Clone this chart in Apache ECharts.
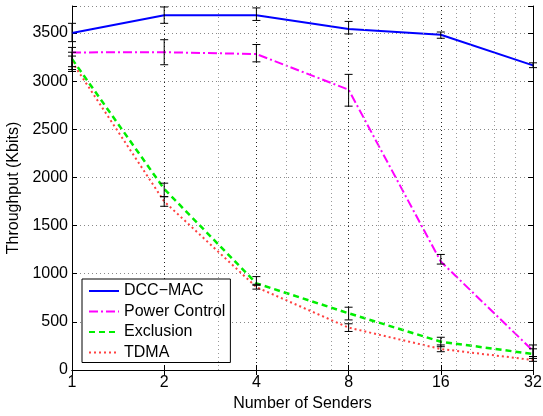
<!DOCTYPE html>
<html>
<head>
<meta charset="utf-8">
<script src="https://cdn.jsdelivr.net/npm/echarts@6/dist/echarts.min.js"></script>
<style>
  html, body { margin: 0; padding: 0; background: #fff; }
  #chart { width: 543px; height: 416px; }
</style>
</head>
<body>
<div id="chart"></div>
<script>
// number of senders (log2 x axis)
const senders = [1, 2, 4, 8, 16, 32];
// minor grid positions, as MATLAB puts them on a log2 axis
const minorTicks = [3, 5, 6, 7, 9, 10, 12, 14, 18, 20, 24, 28];

// throughput (Kbits) and error bar ends
const dccMac = [3500, 3683, 3683, 3541, 3482, 3163];
const dccMacLow = [3410, 3600, 3630, 3490, 3445, 3140];
const dccMacHigh = [3600, 3770, 3760, 3620, 3510, 3190];

const powerControl = [3298, 3300, 3281, 2911, 1126, 200];
const powerControlLow = [3150, 3170, 3200, 2740, 1100, 140];
const powerControlHigh = [3350, 3430, 3380, 3070, 1200, 260];

const exclusion = [3230, 1880, 900, 589, 294, 166];
const exclusionLow = [3120, 1800, 880, 520, 242, 120];
const exclusionHigh = [3300, 1940, 970, 652, 340, 220];

const tdma = [3200, 1750, 860, 440, 218, 104];
const tdmaLow = [3100, 1700, 840, 400, 190, 90];
const tdmaHigh = [3260, 1800, 890, 480, 260, 140];

const yTicks = [0, 500, 1000, 1500, 2000, 2500, 3000, 3500];

const font = 'Liberation Sans, Arial, Helvetica, sans-serif';

const chart = echarts.init(document.getElementById('chart'));

const pairs = (ys) => senders.map((x, i) => [x, ys[i]]);
const errRows = (lo, hi) => senders.map((x, i) => [x, lo[i], hi[i]]);

// black error bars with small caps
const errorSeries = (lo, hi) => ({
    type: 'custom',
    data: errRows(lo, hi),
    z: 5,
    clip: false,
    renderItem: (params, api) => {
        const p0 = api.coord([api.value(0), api.value(1)]);
        const p1 = api.coord([api.value(0), api.value(2)]);
        const w = 4;
        const style = { stroke: '#000', lineWidth: 1 };
        return {
            type: 'group',
            children: [
                { type: 'line', shape: { x1: p0[0], y1: p0[1], x2: p1[0], y2: p1[1] }, style },
                { type: 'line', shape: { x1: p0[0] - w, y1: p0[1], x2: p0[0] + w, y2: p0[1] }, style },
                { type: 'line', shape: { x1: p1[0] - w, y1: p1[1], x2: p1[0] + w, y2: p1[1] }, style }
            ]
        };
    }
});

const lineSeries = (name, ys, color, type, width) => ({
    name: name,
    type: 'line',
    data: pairs(ys),
    symbol: 'none',
    z: 4,
    lineStyle: { color: color, type: type, width: width },
    itemStyle: { color: color }
});

const xAxisBase = {
    type: 'log',
    logBase: 2,
    min: 1,
    max: 32,
    axisLine: { show: true, lineStyle: { color: '#000', width: 1 } },
    axisTick: { show: true, inside: true, length: 5, lineStyle: { color: '#000' } }
};

const yAxisBase = {
    type: 'value',
    min: 0,
    max: 3780,
    interval: 500,
    axisLine: { show: true, lineStyle: { color: '#000', width: 1 } },
    axisTick: { show: true, inside: true, length: 5, lineStyle: { color: '#000' } }
};

const option = {
    backgroundColor: '#fff',
    animation: false,
    grid: { left: 72, right: 10, top: 6, bottom: 46, containLabel: false, outerBoundsMode: 'none' },
    xAxis: [
        Object.assign({}, xAxisBase, {
            position: 'bottom',
            name: 'Number of Senders',
            nameLocation: 'middle',
            nameGap: 22,
            nameTextStyle: { fontFamily: font, fontSize: 16, color: '#000' },
            axisLabel: { fontFamily: font, fontSize: 16, color: '#000', margin: 5 },
            splitLine: { show: true, lineStyle: { color: '#222', type: [1, 3], width: 1 } }
        }),
        Object.assign({}, xAxisBase, {
            position: 'top',
            axisLabel: { show: false },
            splitLine: { show: false }
        })
    ],
    yAxis: [
        Object.assign({}, yAxisBase, {
            position: 'left',
            name: 'Throughput (Kbits)',
            nameLocation: 'middle',
            nameGap: 41,
            nameTextStyle: { fontFamily: font, fontSize: 16, color: '#000' },
            axisLabel: {
                fontFamily: font, fontSize: 16, color: '#000', margin: 4,
                formatter: v => (yTicks.includes(v) ? String(v) : '')
            },
            splitLine: { show: true, lineStyle: { color: '#888', type: [1, 3], width: 1 } }
        }),
        Object.assign({}, yAxisBase, {
            position: 'right',
            axisLabel: { show: false },
            splitLine: { show: false }
        })
    ],
    legend: {
        orient: 'vertical',
        left: 82,
        top: 279,
        data: ['DCC\u2212MAC', 'Power Control', 'Exclusion', 'TDMA'],
        backgroundColor: '#fff',
        borderColor: '#000',
        borderWidth: 1,
        borderRadius: 0,
        padding: [4, 5, 2, 6],
        itemGap: 4.5,
        itemWidth: 30,
        itemHeight: 16,
        itemStyle: { opacity: 0 },
        textStyle: { fontFamily: font, fontSize: 16, color: '#000' }
    },
    series: [
        {
            // minor grid of the log axis
            type: 'line',
            data: [],
            silent: true,
            z: 1,
            markLine: {
                silent: true,
                symbol: 'none',
                label: { show: false },
                lineStyle: { color: '#999', type: [1, 3], width: 1 },
                data: minorTicks.map(v => ({ xAxis: v }))
            }
        },
        lineSeries('DCC\u2212MAC', dccMac, '#0000ff', 'solid', 2),
        lineSeries('Power Control', powerControl, '#ff00ff', [9, 3, 2, 3], 2),
        lineSeries('Exclusion', exclusion, '#00ee00', [6, 4], 2.5),
        lineSeries('TDMA', tdma, '#ff4040', [2, 3], 2),
        errorSeries(dccMacLow, dccMacHigh),
        errorSeries(powerControlLow, powerControlHigh),
        errorSeries(exclusionLow, exclusionHigh),
        errorSeries(tdmaLow, tdmaHigh)
    ]
};

chart.setOption(option);
</script>
</body>
</html>
